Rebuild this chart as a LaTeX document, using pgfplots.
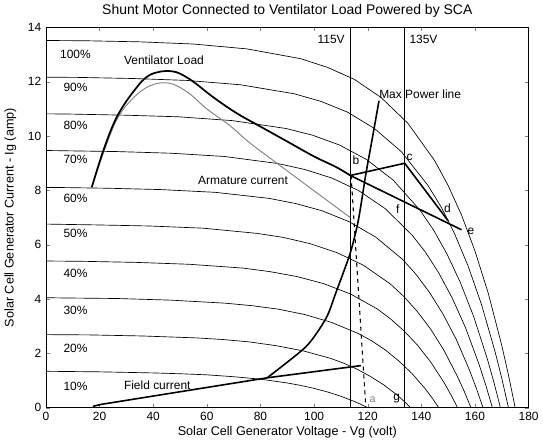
\documentclass[border=0pt]{standalone}
\usepackage{fontspec}
\setmainfont{Liberation Sans}
\usepackage{pgfplots}
\pgfplotsset{compat=1.18}
\begin{document}
\begin{tikzpicture}
\begin{axis}[
  scale only axis, width=363pt, height=286pt,
  xmin=0, xmax=180, ymin=0, ymax=14,
  xtick={0,20,...,180}, ytick={0,2,...,14},
  tick align=inside, major tick length=3pt,
  /pgf/number format/assume math mode=true,
  ticklabel style={font=\small},
  title={Shunt Motor Connected to Ventilator Load Powered by SCA},
  title style={font=\fontsize{10.5}{12}\selectfont, yshift=-2pt},
  xlabel={Solar Cell Generator Voltage - Vg (volt)},
  ylabel={Solar Cell Generator Current - Ig (amp)},
  label style={font=\fontsize{9.5}{11}\selectfont},
  xlabel style={yshift=3pt},
  ylabel style={yshift=2pt},
  every axis plot/.append style={line join=round},
]
% solar cell I-V curves, 10% ... 100%
\addplot[black, line width=0.5pt] coordinates {(0,1.34)(20,1.32)(40,1.28)(50,1.25)(60,1.21)(70,1.14)(80,1.05)(90,0.91)(95,0.82)(100,0.71)(105,0.58)(110,0.42)(115,0.23)(117.5,0.12)(120,0)};
\addplot[black, line width=0.5pt] coordinates {(0,2.69)(16,2.68)(36,2.64)(56,2.57)(66,2.51)(76,2.42)(86,2.28)(96,2.09)(106,1.82)(111,1.64)(116,1.42)(121,1.15)(126,0.84)(131,0.46)(133.5,0.24)(136,0)};
\addplot[black, line width=0.5pt] coordinates {(0,4.05)(6.5,4.04)(26.5,4.02)(46.5,3.96)(66.5,3.85)(76.5,3.76)(86.5,3.63)(96.5,3.43)(106.5,3.14)(116.5,2.73)(121.5,2.46)(126.5,2.13)(131.5,1.73)(136.5,1.26)(141.5,0.69)(144,0.36)(146.5,0)};
\addplot[black, line width=0.5pt] coordinates {(0,5.40)(13.5,5.39)(33.5,5.35)(53.5,5.28)(73.5,5.14)(83.5,5.01)(93.5,4.83)(103.5,4.57)(113.5,4.19)(123.5,3.64)(128.5,3.27)(133.5,2.83)(138.5,2.31)(143.5,1.68)(148.5,0.92)(151,0.48)(153.5,0)};
\addplot[black, line width=0.5pt] coordinates {(0,6.76)(18.5,6.73)(38.5,6.69)(58.5,6.61)(78.5,6.42)(88.5,6.27)(98.5,6.04)(108.5,5.71)(118.5,5.24)(128.5,4.55)(133.5,4.09)(138.5,3.54)(143.5,2.89)(148.5,2.10)(153.5,1.14)(156,0.60)(158.5,0)};
\addplot[black, line width=0.5pt] coordinates {(0,8.11)(3,8.11)(23,8.08)(43,8.03)(63,7.93)(83,7.71)(93,7.52)(103,7.25)(113,6.85)(123,6.28)(133,5.46)(138,4.91)(143,4.25)(148,3.46)(153,2.52)(158,1.37)(160.5,0.72)(163,0)};
\addplot[black, line width=0.5pt] coordinates {(0,9.47)(6.5,9.46)(26.5,9.43)(46.5,9.37)(66.5,9.25)(86.5,8.99)(96.5,8.77)(106.5,8.46)(116.5,8.00)(126.5,7.33)(136.5,6.36)(141.5,5.73)(146.5,4.96)(151.5,4.04)(156.5,2.94)(161.5,1.60)(164,0.84)(166.5,0)};
\addplot[black, line width=0.5pt] coordinates {(0,10.82)(9.5,10.81)(29.5,10.77)(49.5,10.71)(69.5,10.57)(89.5,10.28)(99.5,10.03)(109.5,9.67)(119.5,9.14)(129.5,8.38)(139.5,7.27)(144.5,6.55)(149.5,5.67)(154.5,4.62)(159.5,3.36)(164.5,1.83)(167,0.96)(169.5,0)};
\addplot[black, line width=0.5pt] coordinates {(0,12.17)(12.5,12.16)(32.5,12.12)(52.5,12.05)(72.5,11.89)(92.5,11.56)(102.5,11.28)(112.5,10.88)(122.5,10.28)(132.5,9.43)(142.5,8.18)(147.5,7.37)(152.5,6.38)(157.5,5.20)(162.5,3.78)(167.5,2.06)(170,1.08)(172.5,0)};
\addplot[black, line width=0.5pt] coordinates {(0,13.52)(15,13.51)(35,13.47)(55,13.39)(75,13.21)(95,12.85)(105,12.53)(115,12.09)(125,11.42)(135,10.47)(145,9.09)(150,8.18)(155,7.09)(160,5.77)(165,4.20)(170,2.29)(172.5,1.20)(175,0)};
% voltage lines
\addplot[black, line width=1pt] coordinates {(113.5,0)(113.5,14)};
\addplot[black, line width=1pt] coordinates {(133.8,0)(133.8,14)};
% armature current
\addplot[black!50, line width=0.7pt, smooth, tension=0.6] coordinates {(17,8.1)(21.5,9.4)(26.4,10.6)(32,11.35)(38.7,11.85)(46,11.95)(53,11.6)(60,11.0)(68.4,10.4)(76,9.75)(84.8,9.1)(95,8.35)(108,7.4)(113.5,7.0)};
% ventilator load
\addplot[black, line width=1.3pt, smooth, tension=0.6] coordinates {(17.1,8.12)(21.5,9.5)(26.4,10.7)(32.7,11.65)(38.7,12.25)(46.8,12.39)(53.5,12.1)(62.4,11.43)(71,10.85)(80,10.35)(90,9.8)(100,9.25)(108.2,8.86)(113.5,8.55)};
% operating point lines
\addplot[black, line width=1.2pt] coordinates {(113.5,8.55)(133.8,9.0)(150,6.88)};
\addplot[black, line width=1.2pt] coordinates {(113.5,8.55)(133.8,7.57)(155,6.55)};
\addplot[black, line width=0.8pt, dashed] coordinates {(113.8,8.55)(119.3,0)};
% max power line
\addplot[black, line width=1.2pt, smooth, tension=0.5] coordinates {(82.5,1.1)(90.7,1.73)(97,2.25)(101,2.75)(105,3.4)(108,4.2)(111,5.0)(113.8,5.8)(116.5,6.9)(119.3,8.6)(121.5,9.8)(124.2,11.3)};
% field current
\addplot[black, line width=1.2pt] coordinates {(17.5,0.05)(20.5,0.12)(82.5,1.1)(117.5,1.55)};
% labels
\node[font=\small] at (axis cs:11,0.8) {10\%};
\node[font=\small] at (axis cs:11,2.2) {20\%};
\node[font=\small] at (axis cs:11,3.6) {30\%};
\node[font=\small] at (axis cs:11,4.95) {40\%};
\node[font=\small] at (axis cs:11,6.4) {50\%};
\node[font=\small] at (axis cs:11,7.7) {60\%};
\node[font=\small] at (axis cs:11,9.15) {70\%};
\node[font=\small] at (axis cs:11,10.4) {80\%};
\node[font=\small] at (axis cs:11,11.8) {90\%};
\node[font=\small] at (axis cs:11,13.0) {100\%};
\node[font=\small] at (axis cs:44,12.78) {Ventilator Load};
\node[font=\small] at (axis cs:73.5,8.35) {Armature current};
\node[font=\small] at (axis cs:41.5,0.82) {Field current};
\node[font=\small, anchor=west, inner sep=0pt] at (axis cs:124.2,11.55) {Max Power line};
\node[font=\small, anchor=east, inner sep=1pt] at (axis cs:112,13.55) {115V};
\node[font=\small, anchor=west, inner sep=1pt] at (axis cs:135,13.55) {135V};
\node[font=\small] at (axis cs:115.6,9.1) {b};
\node[font=\small] at (axis cs:135.6,9.2) {c};
\node[font=\small] at (axis cs:149.7,7.35) {d};
\node[font=\small] at (axis cs:158.5,6.5) {e};
\node[font=\small] at (axis cs:131.2,7.3) {f};
\node[font=\small] at (axis cs:130.8,0.35) {g};
\node[font=\footnotesize, text=black!50] at (axis cs:121.8,0.3) {a};
\end{axis}
\end{tikzpicture}
\end{document}
